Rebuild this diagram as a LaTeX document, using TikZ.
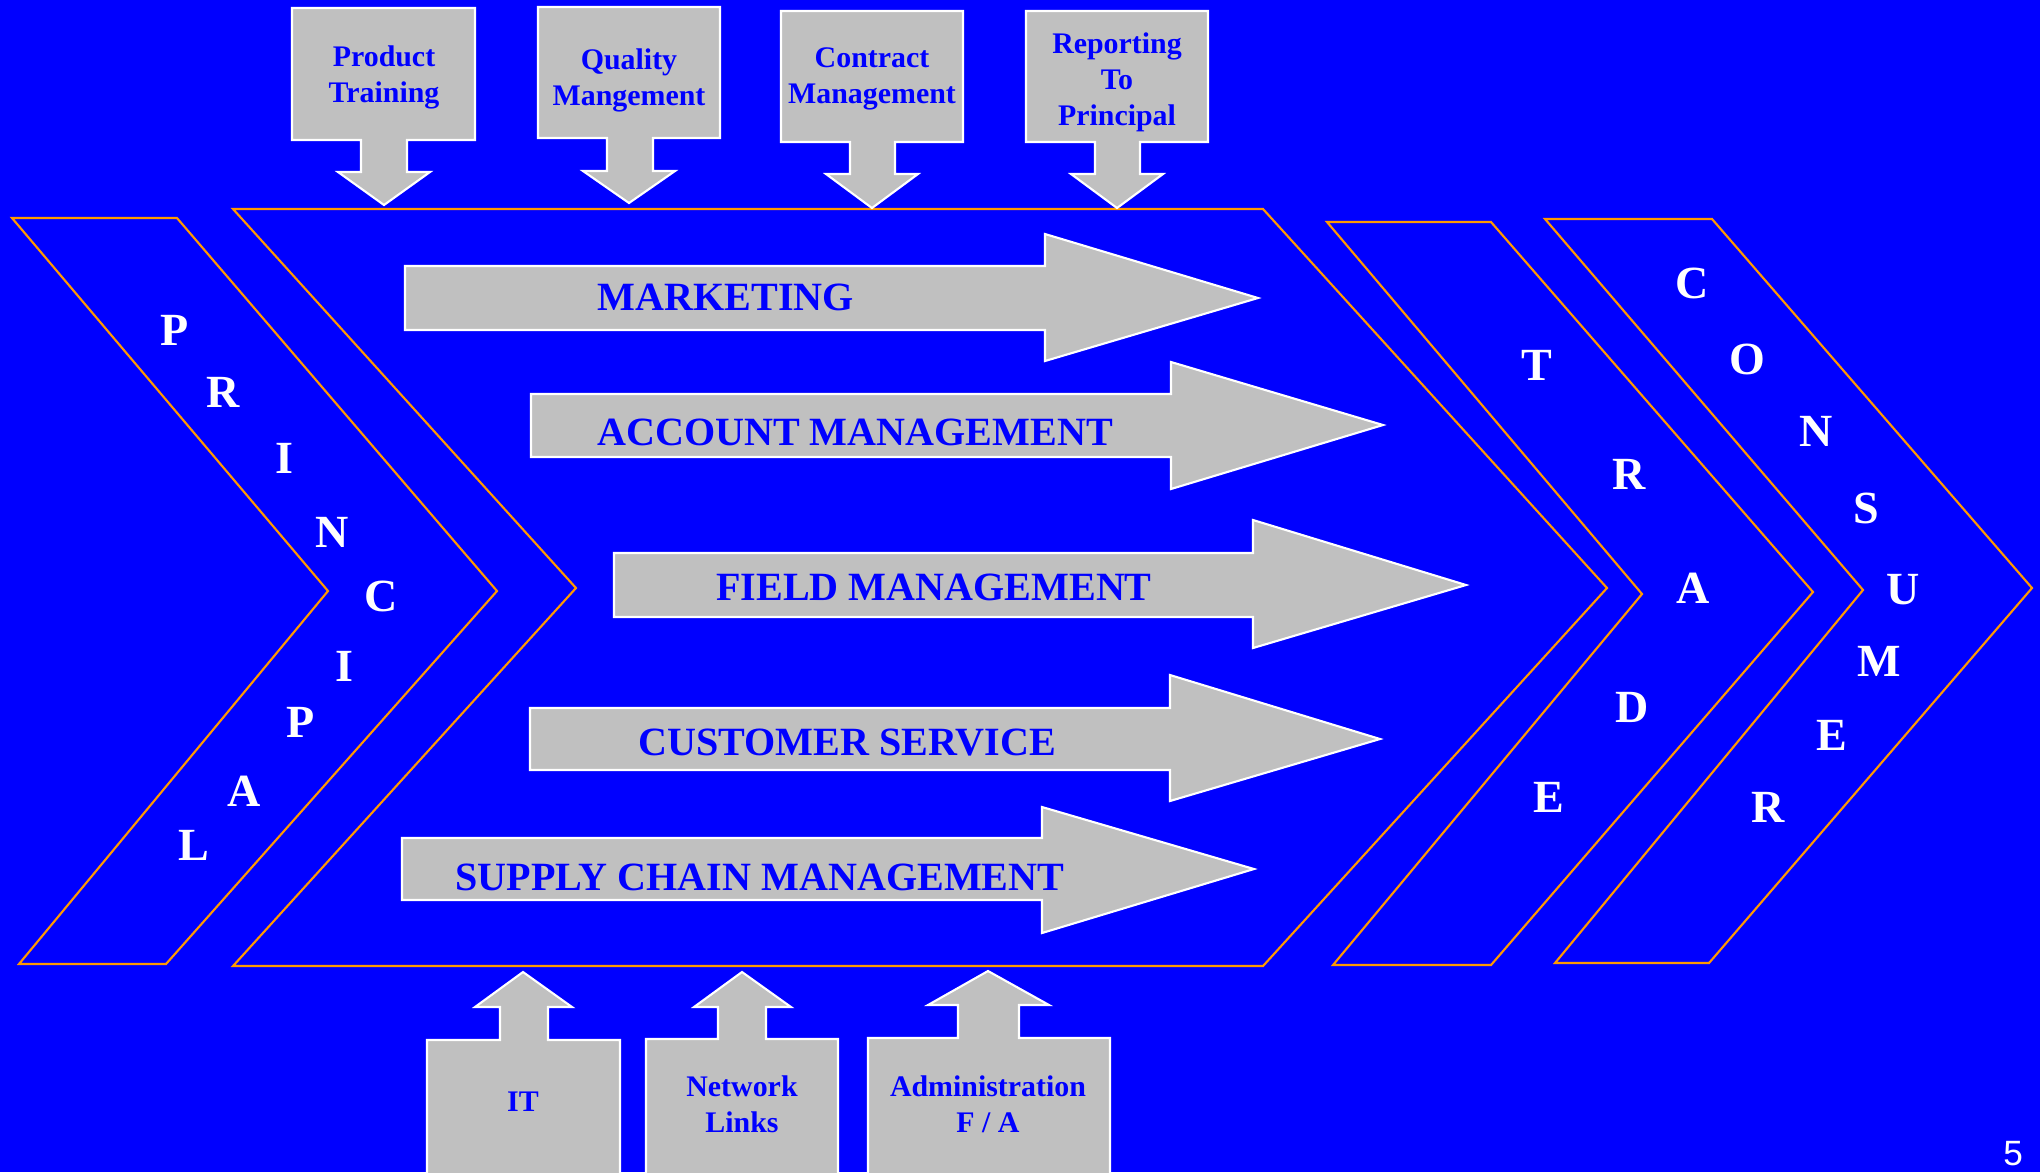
\documentclass[tikz,border=0pt]{standalone}
\usepackage{fontspec}
\setmainfont{Liberation Serif}
\newfontfamily\slidesans{Liberation Sans}
\usepackage{tikz}

\definecolor{slideblue}{RGB}{0,0,255}
\definecolor{boxgray}{RGB}{192,192,192}
\definecolor{rimorange}{RGB}{255,153,0}

\begin{document}
\begin{tikzpicture}[x=0.01cm, y=-0.01cm,
  chevron/.style={draw=rimorange, line width=0.6pt, line join=miter},
  blockarrow/.style={fill=boxgray, draw=white, line width=0.6pt},
  flowtext/.style={inner sep=0pt, text=slideblue, font=\fontsize{11.4}{13}\selectfont\bfseries},
  sidetext/.style={inner sep=0pt, text=slideblue, align=center, font=\fontsize{8.5}{10.2}\selectfont\bfseries},
  letter/.style={inner sep=0pt, text=white, font=\fontsize{13.1}{15}\selectfont\bfseries}]
  % slide area, in pixel units (y runs downwards)
  \useasboundingbox (0,0) rectangle (2040,1172);
  \fill[slideblue] (0,0) rectangle (2040,1172);

  % chevrons: principal -> company -> trade -> consumer
  \draw[chevron] (12,218) -- (177,218) -- (497,591) -- (166,964) -- (19,964) -- (328,591) -- cycle;
  \draw[chevron] (233,209) -- (1263,209) -- (1607,588) -- (1263,966) -- (233,966) -- (576,588) -- cycle;
  \draw[chevron] (1327,222) -- (1491,222) -- (1813,592) -- (1491,965) -- (1333,965) -- (1642,594) -- cycle;
  \draw[chevron] (1545,219) -- (1712,219) -- (2032,588) -- (1709,963) -- (1555,963) -- (1863,590) -- cycle;

  % activity arrows
  \filldraw[blockarrow] (405,266) -- (1045,266) -- (1045,234) -- (1258,298) -- (1045,361) -- (1045,330) -- (405,330) -- cycle;
  \filldraw[blockarrow] (531,394) -- (1171,394) -- (1171,362) -- (1383,425) -- (1171,489) -- (1171,457) -- (531,457) -- cycle;
  \filldraw[blockarrow] (614,553) -- (1253,553) -- (1253,520) -- (1466,585) -- (1253,648) -- (1253,617) -- (614,617) -- cycle;
  \filldraw[blockarrow] (530,708) -- (1170,708) -- (1170,675) -- (1380,739) -- (1170,801) -- (1170,770) -- (530,770) -- cycle;
  \filldraw[blockarrow] (402,838) -- (1042,838) -- (1042,807) -- (1254,869) -- (1042,933) -- (1042,900) -- (402,900) -- cycle;
  \node[flowtext] (mkt)  at (726,297) {MARKETING};
  \node[flowtext] (acct) at (855,432) {ACCOUNT MANAGEMENT};
  \node[flowtext] (fld)  at (934,587) {FIELD MANAGEMENT};
  \node[flowtext] (cust) at (847,743) {CUSTOMER SERVICE};
  \node[flowtext] (scm)  at (760,877) {SUPPLY CHAIN MANAGEMENT};

  % inputs from above
  \filldraw[blockarrow] (292,8) -- (475,8) -- (475,140) -- (407,140) -- (407,172) -- (430,172) -- (384,205) -- (338,172) -- (361,172) -- (361,140) -- (292,140) -- cycle;
  \filldraw[blockarrow] (538,7) -- (720,7) -- (720,138) -- (653,138) -- (653,171) -- (675,171) -- (629,203) -- (583,171) -- (607,171) -- (607,138) -- (538,138) -- cycle;
  \filldraw[blockarrow] (781,11) -- (963,11) -- (963,142) -- (895,142) -- (895,174) -- (918,174) -- (872,208) -- (826,174) -- (850,174) -- (850,142) -- (781,142) -- cycle;
  \filldraw[blockarrow] (1026,11) -- (1208,11) -- (1208,142) -- (1140,142) -- (1140,174) -- (1163,174) -- (1117,208) -- (1071,174) -- (1095,174) -- (1095,142) -- (1026,142) -- cycle;
  \node[sidetext] (train) at (384,77) {Product\\Training};
  \node[sidetext] (qual)  at (629,80) {Quality\\Mangement};
  \node[sidetext] (contr) at (872,79) {Contract\\Management};
  \node[sidetext] (rep)   at (1117,82) {Reporting\\To\\Principal};

  % support from below (boxes run off the slide)
  \filldraw[blockarrow] (427,1180) -- (427,1040) -- (500,1040) -- (500,1007) -- (475,1007) -- (523,972) -- (572,1007) -- (548,1007) -- (548,1040) -- (620,1040) -- (620,1180);
  \filldraw[blockarrow] (646,1180) -- (646,1039) -- (718,1039) -- (718,1007) -- (694,1007) -- (742,972) -- (791,1007) -- (766,1007) -- (766,1039) -- (838,1039) -- (838,1180);
  \filldraw[blockarrow] (868,1180) -- (868,1038) -- (958,1038) -- (958,1005) -- (928,1005) -- (988,971) -- (1049,1005) -- (1019,1005) -- (1019,1038) -- (1110,1038) -- (1110,1180);
  \node[sidetext] (it)    at (523,1102) {IT};
  \node[sidetext] (net)   at (742,1104) {Network\\Links};
  \node[sidetext] (admin) at (988,1104) {Administration\\F / A};

  % vertical words in the chevrons
  \node[letter] (pr1) at (175,330) {P};
  \node[letter] (pr2) at (223,392) {R};
  \node[letter] (pr3) at (284,458) {I};
  \node[letter] (pr4) at (332,532) {N};
  \node[letter] (pr5) at (381,596) {C};
  \node[letter] (pr6) at (344,666) {I};
  \node[letter] (pr7) at (301,722) {P};
  \node[letter] (pr8) at (244,791) {A};
  \node[letter] (pr9) at (194,845) {L};

  \node[letter] (tr1) at (1537,365) {T};
  \node[letter] (tr2) at (1629,474) {R};
  \node[letter] (tr3) at (1693,588) {A};
  \node[letter] (tr4) at (1632,707) {D};
  \node[letter] (tr5) at (1549,797) {E};

  \node[letter] (co1) at (1692,283) {C};
  \node[letter] (co2) at (1747,359) {O};
  \node[letter] (co3) at (1816,431) {N};
  \node[letter] (co4) at (1866,508) {S};
  \node[letter] (co5) at (1903,590) {U};
  \node[letter] (co6) at (1879,661) {M};
  \node[letter] (co7) at (1832,735) {E};
  \node[letter] (co8) at (1768,807) {R};

  % slide number
  \node[inner sep=0pt, text=white, font=\slidesans\fontsize{10}{12}\selectfont] (pageno) at (2013,1154) {5};
\end{tikzpicture}
\end{document}
